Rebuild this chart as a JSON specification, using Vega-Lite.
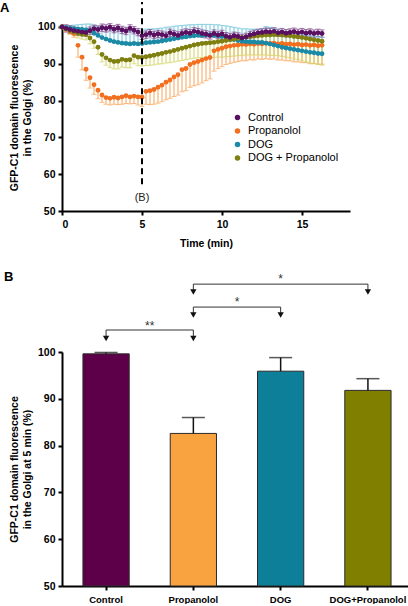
{
"$schema":"https://vega.github.io/schema/vega-lite/v6.json",
"padding":0,
"config":{
"font":"Liberation Sans",
"view":{"stroke":null},
"axis":{"domainColor":"black","domainWidth":2,"tickColor":"black","tickWidth":2,"tickSize":4,"labelFont":"Liberation Sans","labelFontWeight":"bold","labelFontSize":10.5,"labelColor":"black","titleFont":"Liberation Sans","titleFontWeight":"bold","titleFontSize":10.5,"titleColor":"black","grid":false,"labelPadding":3,"labelOverlap":false},
"title":{"fontSize":13,"fontWeight":"bold","anchor":"start","color":"black","font":"Liberation Sans"}
},
"datasets":{
"ts":[
{"t":0,"g":"Propanolol","m":100,"lo":99.5,"hi":100},
{"t":0.25,"g":"Propanolol","m":99.5,"lo":98.9,"hi":99.5},
{"t":0.5,"g":"Propanolol","m":98.8,"lo":98.0,"hi":98.8},
{"t":0.75,"g":"Propanolol","m":98.2,"lo":97.2,"hi":98.2},
{"t":1.0,"g":"Propanolol","m":95.0,"lo":91.8,"hi":95.0},
{"t":1.25,"g":"Propanolol","m":91.8,"lo":88.3,"hi":91.8},
{"t":1.5,"g":"Propanolol","m":88.5,"lo":85.5,"hi":88.5},
{"t":1.75,"g":"Propanolol","m":86.2,"lo":83.4,"hi":86.2},
{"t":2.0,"g":"Propanolol","m":84.3,"lo":81.7,"hi":84.3},
{"t":2.25,"g":"Propanolol","m":82.8,"lo":80.5,"hi":82.8},
{"t":2.5,"g":"Propanolol","m":81.5,"lo":79.5,"hi":81.5},
{"t":2.75,"g":"Propanolol","m":80.8,"lo":79.0,"hi":80.8},
{"t":3.0,"g":"Propanolol","m":80.6,"lo":78.8,"hi":80.6},
{"t":3.25,"g":"Propanolol","m":80.9,"lo":79.0,"hi":80.9},
{"t":3.5,"g":"Propanolol","m":80.7,"lo":78.9,"hi":80.7},
{"t":3.75,"g":"Propanolol","m":81.0,"lo":79.0,"hi":81.0},
{"t":4.0,"g":"Propanolol","m":81.3,"lo":79.2,"hi":81.3},
{"t":4.25,"g":"Propanolol","m":81.0,"lo":79.1,"hi":81.0},
{"t":4.5,"g":"Propanolol","m":81.2,"lo":79.2,"hi":81.2},
{"t":4.75,"g":"Propanolol","m":81.0,"lo":78.8,"hi":81.0},
{"t":5.0,"g":"Propanolol","m":80.9,"lo":78.4,"hi":80.9},
{"t":5.25,"g":"Propanolol","m":82.5,"lo":79.0,"hi":82.5},
{"t":5.5,"g":"Propanolol","m":82.7,"lo":78.9,"hi":82.7},
{"t":5.75,"g":"Propanolol","m":83.0,"lo":79.0,"hi":83.0},
{"t":6.0,"g":"Propanolol","m":83.6,"lo":79.3,"hi":83.6},
{"t":6.25,"g":"Propanolol","m":84.2,"lo":79.7,"hi":84.2},
{"t":6.5,"g":"Propanolol","m":85.0,"lo":80.2,"hi":85.0},
{"t":6.75,"g":"Propanolol","m":85.6,"lo":80.6,"hi":85.6},
{"t":7.0,"g":"Propanolol","m":86.4,"lo":81.1,"hi":86.4},
{"t":7.25,"g":"Propanolol","m":87.0,"lo":81.5,"hi":87.0},
{"t":7.5,"g":"Propanolol","m":88.4,"lo":82.4,"hi":88.4},
{"t":7.75,"g":"Propanolol","m":88.7,"lo":82.7,"hi":88.7},
{"t":8.0,"g":"Propanolol","m":89.8,"lo":83.6,"hi":89.8},
{"t":8.25,"g":"Propanolol","m":90.3,"lo":84.0,"hi":90.3},
{"t":8.5,"g":"Propanolol","m":90.6,"lo":84.3,"hi":90.6},
{"t":8.75,"g":"Propanolol","m":91.0,"lo":84.8,"hi":91.0},
{"t":9.0,"g":"Propanolol","m":91.4,"lo":85.4,"hi":91.4},
{"t":9.25,"g":"Propanolol","m":91.7,"lo":85.9,"hi":91.7},
{"t":9.5,"g":"Propanolol","m":93.5,"lo":88.0,"hi":93.5},
{"t":9.75,"g":"Propanolol","m":93.9,"lo":88.7,"hi":93.9},
{"t":10.0,"g":"Propanolol","m":94.2,"lo":89.2,"hi":94.2},
{"t":10.25,"g":"Propanolol","m":94.6,"lo":89.8,"hi":94.6},
{"t":10.5,"g":"Propanolol","m":94.8,"lo":90.1,"hi":94.8},
{"t":10.75,"g":"Propanolol","m":95.0,"lo":90.4,"hi":95.0},
{"t":11.0,"g":"Propanolol","m":95.1,"lo":90.6,"hi":95.1},
{"t":11.25,"g":"Propanolol","m":95.3,"lo":90.8,"hi":95.3},
{"t":11.5,"g":"Propanolol","m":95.2,"lo":90.8,"hi":95.2},
{"t":11.75,"g":"Propanolol","m":95.4,"lo":91.1,"hi":95.4},
{"t":12.0,"g":"Propanolol","m":95.3,"lo":91.0,"hi":95.3},
{"t":12.25,"g":"Propanolol","m":95.5,"lo":91.3,"hi":95.5},
{"t":12.5,"g":"Propanolol","m":95.4,"lo":91.2,"hi":95.4},
{"t":12.75,"g":"Propanolol","m":95.6,"lo":91.4,"hi":95.6},
{"t":13.0,"g":"Propanolol","m":95.5,"lo":91.2,"hi":95.5},
{"t":13.25,"g":"Propanolol","m":95.6,"lo":91.3,"hi":95.6},
{"t":13.5,"g":"Propanolol","m":95.4,"lo":91.0,"hi":95.4},
{"t":13.75,"g":"Propanolol","m":95.5,"lo":91.0,"hi":95.5},
{"t":14.0,"g":"Propanolol","m":95.3,"lo":90.8,"hi":95.3},
{"t":14.25,"g":"Propanolol","m":95.4,"lo":90.8,"hi":95.4},
{"t":14.5,"g":"Propanolol","m":95.2,"lo":90.5,"hi":95.2},
{"t":14.75,"g":"Propanolol","m":95.3,"lo":90.5,"hi":95.3},
{"t":15.0,"g":"Propanolol","m":95.1,"lo":90.3,"hi":95.1},
{"t":15.25,"g":"Propanolol","m":95.2,"lo":90.3,"hi":95.2},
{"t":15.5,"g":"Propanolol","m":95.0,"lo":90.0,"hi":95.0},
{"t":15.75,"g":"Propanolol","m":95.1,"lo":90.1,"hi":95.1},
{"t":16.0,"g":"Propanolol","m":94.9,"lo":89.9,"hi":94.9},
{"t":16.25,"g":"Propanolol","m":95.0,"lo":89.9,"hi":95.0},
{"t":0,"g":"DOG","m":100,"lo":100,"hi":100.3},
{"t":0.25,"g":"DOG","m":99.8,"lo":99.8,"hi":100.4},
{"t":0.5,"g":"DOG","m":99.6,"lo":99.6,"hi":100.4},
{"t":0.75,"g":"DOG","m":99.5,"lo":99.5,"hi":100.5},
{"t":1.0,"g":"DOG","m":99.4,"lo":99.4,"hi":100.6},
{"t":1.25,"g":"DOG","m":99.3,"lo":99.3,"hi":100.7},
{"t":1.5,"g":"DOG","m":99.2,"lo":99.2,"hi":100.8},
{"t":1.75,"g":"DOG","m":99.0,"lo":99.0,"hi":100.8},
{"t":2.0,"g":"DOG","m":98.3,"lo":98.3,"hi":100.5},
{"t":2.25,"g":"DOG","m":97.7,"lo":97.7,"hi":100.2},
{"t":2.5,"g":"DOG","m":97.1,"lo":97.1,"hi":99.9},
{"t":2.75,"g":"DOG","m":96.7,"lo":96.7,"hi":99.7},
{"t":3.0,"g":"DOG","m":96.3,"lo":96.3,"hi":99.5},
{"t":3.25,"g":"DOG","m":96.0,"lo":96.0,"hi":99.3},
{"t":3.5,"g":"DOG","m":95.8,"lo":95.8,"hi":99.2},
{"t":3.75,"g":"DOG","m":95.6,"lo":95.6,"hi":99.1},
{"t":4.0,"g":"DOG","m":95.5,"lo":95.5,"hi":99.0},
{"t":4.25,"g":"DOG","m":95.4,"lo":95.4,"hi":99.0},
{"t":4.5,"g":"DOG","m":95.5,"lo":95.5,"hi":99.1},
{"t":4.75,"g":"DOG","m":95.4,"lo":95.4,"hi":99.1},
{"t":5.0,"g":"DOG","m":95.5,"lo":95.5,"hi":99.2},
{"t":5.25,"g":"DOG","m":95.7,"lo":95.7,"hi":99.4},
{"t":5.5,"g":"DOG","m":95.8,"lo":95.8,"hi":99.4},
{"t":5.75,"g":"DOG","m":95.9,"lo":95.9,"hi":99.5},
{"t":6.0,"g":"DOG","m":96.0,"lo":96.0,"hi":99.6},
{"t":6.25,"g":"DOG","m":96.2,"lo":96.2,"hi":99.7},
{"t":6.5,"g":"DOG","m":96.4,"lo":96.4,"hi":99.9},
{"t":6.75,"g":"DOG","m":96.6,"lo":96.6,"hi":100.0},
{"t":7.0,"g":"DOG","m":96.8,"lo":96.8,"hi":100.2},
{"t":7.25,"g":"DOG","m":97.0,"lo":97.0,"hi":100.3},
{"t":7.5,"g":"DOG","m":97.2,"lo":97.2,"hi":100.4},
{"t":7.75,"g":"DOG","m":97.3,"lo":97.3,"hi":100.5},
{"t":8.0,"g":"DOG","m":97.5,"lo":97.5,"hi":100.6},
{"t":8.25,"g":"DOG","m":97.6,"lo":97.6,"hi":100.6},
{"t":8.5,"g":"DOG","m":97.7,"lo":97.7,"hi":100.7},
{"t":8.75,"g":"DOG","m":97.7,"lo":97.7,"hi":100.7},
{"t":9.0,"g":"DOG","m":97.8,"lo":97.8,"hi":100.7},
{"t":9.25,"g":"DOG","m":97.8,"lo":97.8,"hi":100.7},
{"t":9.5,"g":"DOG","m":97.7,"lo":97.7,"hi":100.6},
{"t":9.75,"g":"DOG","m":97.6,"lo":97.6,"hi":100.6},
{"t":10.0,"g":"DOG","m":97.4,"lo":97.4,"hi":100.4},
{"t":10.25,"g":"DOG","m":97.2,"lo":97.2,"hi":100.3},
{"t":10.5,"g":"DOG","m":96.9,"lo":96.9,"hi":100.1},
{"t":10.75,"g":"DOG","m":96.6,"lo":96.6,"hi":99.9},
{"t":11.0,"g":"DOG","m":96.3,"lo":96.3,"hi":99.7},
{"t":11.25,"g":"DOG","m":96.1,"lo":96.1,"hi":99.5},
{"t":11.5,"g":"DOG","m":96.0,"lo":96.0,"hi":99.5},
{"t":11.75,"g":"DOG","m":95.9,"lo":95.9,"hi":99.4},
{"t":12.0,"g":"DOG","m":95.9,"lo":95.9,"hi":99.4},
{"t":12.25,"g":"DOG","m":95.8,"lo":95.8,"hi":99.3},
{"t":12.5,"g":"DOG","m":95.8,"lo":95.8,"hi":99.6},
{"t":12.75,"g":"DOG","m":95.6,"lo":95.6,"hi":100.1},
{"t":13.0,"g":"DOG","m":95.4,"lo":95.4,"hi":99.9},
{"t":13.25,"g":"DOG","m":95.1,"lo":95.1,"hi":99.6},
{"t":13.5,"g":"DOG","m":94.8,"lo":94.8,"hi":99.3},
{"t":13.75,"g":"DOG","m":94.5,"lo":94.5,"hi":99.0},
{"t":14.0,"g":"DOG","m":94.3,"lo":94.3,"hi":98.8},
{"t":14.25,"g":"DOG","m":94.1,"lo":94.1,"hi":98.6},
{"t":14.5,"g":"DOG","m":93.9,"lo":93.9,"hi":98.4},
{"t":14.75,"g":"DOG","m":93.7,"lo":93.7,"hi":98.2},
{"t":15.0,"g":"DOG","m":93.5,"lo":93.5,"hi":98.0},
{"t":15.25,"g":"DOG","m":93.3,"lo":93.3,"hi":97.8},
{"t":15.5,"g":"DOG","m":93.1,"lo":93.1,"hi":97.6},
{"t":15.75,"g":"DOG","m":93.0,"lo":93.0,"hi":97.5},
{"t":16.0,"g":"DOG","m":92.8,"lo":92.8,"hi":97.3},
{"t":16.25,"g":"DOG","m":92.7,"lo":92.7,"hi":97.2},
{"t":0,"g":"DOG + Propanolol","m":100,"lo":99.7,"hi":100},
{"t":0.25,"g":"DOG + Propanolol","m":99.5,"lo":98.9,"hi":99.5},
{"t":0.5,"g":"DOG + Propanolol","m":99.0,"lo":98.2,"hi":99.0},
{"t":0.75,"g":"DOG + Propanolol","m":98.6,"lo":97.6,"hi":98.6},
{"t":1.0,"g":"DOG + Propanolol","m":98.2,"lo":97.0,"hi":98.2},
{"t":1.25,"g":"DOG + Propanolol","m":98.0,"lo":96.7,"hi":98.0},
{"t":1.5,"g":"DOG + Propanolol","m":97.9,"lo":96.5,"hi":97.9},
{"t":1.75,"g":"DOG + Propanolol","m":97.0,"lo":95.4,"hi":97.0},
{"t":2.0,"g":"DOG + Propanolol","m":96.0,"lo":94.2,"hi":96.0},
{"t":2.25,"g":"DOG + Propanolol","m":94.5,"lo":92.5,"hi":94.5},
{"t":2.5,"g":"DOG + Propanolol","m":92.5,"lo":90.5,"hi":92.5},
{"t":2.75,"g":"DOG + Propanolol","m":91.6,"lo":89.6,"hi":91.6},
{"t":3.0,"g":"DOG + Propanolol","m":91.0,"lo":89.0,"hi":91.0},
{"t":3.25,"g":"DOG + Propanolol","m":90.6,"lo":88.6,"hi":90.6},
{"t":3.5,"g":"DOG + Propanolol","m":90.7,"lo":88.6,"hi":90.7},
{"t":3.75,"g":"DOG + Propanolol","m":91.2,"lo":89.1,"hi":91.2},
{"t":4.0,"g":"DOG + Propanolol","m":91.0,"lo":88.9,"hi":91.0},
{"t":4.25,"g":"DOG + Propanolol","m":91.1,"lo":88.9,"hi":91.1},
{"t":4.5,"g":"DOG + Propanolol","m":92.2,"lo":90.0,"hi":92.2},
{"t":4.75,"g":"DOG + Propanolol","m":91.8,"lo":89.5,"hi":91.8},
{"t":5.0,"g":"DOG + Propanolol","m":91.7,"lo":89.4,"hi":91.7},
{"t":5.25,"g":"DOG + Propanolol","m":91.9,"lo":89.5,"hi":91.9},
{"t":5.5,"g":"DOG + Propanolol","m":92.1,"lo":89.6,"hi":92.1},
{"t":5.75,"g":"DOG + Propanolol","m":92.3,"lo":89.7,"hi":92.3},
{"t":6.0,"g":"DOG + Propanolol","m":92.6,"lo":89.9,"hi":92.6},
{"t":6.25,"g":"DOG + Propanolol","m":92.8,"lo":90.0,"hi":92.8},
{"t":6.5,"g":"DOG + Propanolol","m":93.1,"lo":90.2,"hi":93.1},
{"t":6.75,"g":"DOG + Propanolol","m":93.3,"lo":90.3,"hi":93.3},
{"t":7.0,"g":"DOG + Propanolol","m":93.6,"lo":90.5,"hi":93.6},
{"t":7.25,"g":"DOG + Propanolol","m":93.9,"lo":90.7,"hi":93.9},
{"t":7.5,"g":"DOG + Propanolol","m":94.2,"lo":90.9,"hi":94.2},
{"t":7.75,"g":"DOG + Propanolol","m":94.5,"lo":91.1,"hi":94.5},
{"t":8.0,"g":"DOG + Propanolol","m":94.8,"lo":91.3,"hi":94.8},
{"t":8.25,"g":"DOG + Propanolol","m":95.1,"lo":91.5,"hi":95.1},
{"t":8.5,"g":"DOG + Propanolol","m":95.3,"lo":91.6,"hi":95.3},
{"t":8.75,"g":"DOG + Propanolol","m":95.5,"lo":91.7,"hi":95.5},
{"t":9.0,"g":"DOG + Propanolol","m":95.6,"lo":91.7,"hi":95.6},
{"t":9.25,"g":"DOG + Propanolol","m":95.7,"lo":91.7,"hi":95.7},
{"t":9.5,"g":"DOG + Propanolol","m":95.8,"lo":91.7,"hi":95.8},
{"t":9.75,"g":"DOG + Propanolol","m":96.0,"lo":91.8,"hi":96.0},
{"t":10.0,"g":"DOG + Propanolol","m":96.1,"lo":91.8,"hi":96.1},
{"t":10.25,"g":"DOG + Propanolol","m":96.3,"lo":91.9,"hi":96.3},
{"t":10.5,"g":"DOG + Propanolol","m":96.5,"lo":92.0,"hi":96.5},
{"t":10.75,"g":"DOG + Propanolol","m":96.7,"lo":92.1,"hi":96.7},
{"t":11.0,"g":"DOG + Propanolol","m":96.9,"lo":92.2,"hi":96.9},
{"t":11.25,"g":"DOG + Propanolol","m":97.1,"lo":92.3,"hi":97.1},
{"t":11.5,"g":"DOG + Propanolol","m":97.3,"lo":92.4,"hi":97.3},
{"t":11.75,"g":"DOG + Propanolol","m":97.4,"lo":92.4,"hi":97.4},
{"t":12.0,"g":"DOG + Propanolol","m":97.5,"lo":92.4,"hi":97.5},
{"t":12.25,"g":"DOG + Propanolol","m":97.6,"lo":92.4,"hi":97.6},
{"t":12.5,"g":"DOG + Propanolol","m":97.7,"lo":92.4,"hi":97.7},
{"t":12.75,"g":"DOG + Propanolol","m":97.8,"lo":92.4,"hi":97.8},
{"t":13.0,"g":"DOG + Propanolol","m":97.8,"lo":92.3,"hi":97.8},
{"t":13.25,"g":"DOG + Propanolol","m":97.9,"lo":92.3,"hi":97.9},
{"t":13.5,"g":"DOG + Propanolol","m":97.9,"lo":92.2,"hi":97.9},
{"t":13.75,"g":"DOG + Propanolol","m":97.8,"lo":92.0,"hi":97.8},
{"t":14.0,"g":"DOG + Propanolol","m":97.7,"lo":91.8,"hi":97.7},
{"t":14.25,"g":"DOG + Propanolol","m":97.6,"lo":91.6,"hi":97.6},
{"t":14.5,"g":"DOG + Propanolol","m":97.4,"lo":91.3,"hi":97.4},
{"t":14.75,"g":"DOG + Propanolol","m":97.3,"lo":91.1,"hi":97.3},
{"t":15.0,"g":"DOG + Propanolol","m":97.1,"lo":90.8,"hi":97.1},
{"t":15.25,"g":"DOG + Propanolol","m":96.9,"lo":90.5,"hi":96.9},
{"t":15.5,"g":"DOG + Propanolol","m":96.7,"lo":90.2,"hi":96.7},
{"t":15.75,"g":"DOG + Propanolol","m":96.5,"lo":90.0,"hi":96.5},
{"t":16.0,"g":"DOG + Propanolol","m":96.3,"lo":89.8,"hi":96.3},
{"t":16.25,"g":"DOG + Propanolol","m":96.1,"lo":89.6,"hi":96.1},
{"t":0,"g":"Control","m":100,"lo":100,"hi":100},
{"t":0.25,"g":"Control","m":99.6,"lo":98.6,"hi":100.6},
{"t":0.5,"g":"Control","m":99.3,"lo":98.3,"hi":100.3},
{"t":0.75,"g":"Control","m":99.0,"lo":98.0,"hi":100.0},
{"t":1.0,"g":"Control","m":98.8,"lo":97.8,"hi":99.8},
{"t":1.25,"g":"Control","m":98.6,"lo":97.6,"hi":99.6},
{"t":1.5,"g":"Control","m":98.5,"lo":97.5,"hi":99.5},
{"t":1.75,"g":"Control","m":99.0,"lo":98.0,"hi":100.0},
{"t":2.0,"g":"Control","m":99.5,"lo":98.5,"hi":100.5},
{"t":2.25,"g":"Control","m":99.3,"lo":98.3,"hi":100.3},
{"t":2.5,"g":"Control","m":99.8,"lo":98.8,"hi":100.8},
{"t":2.75,"g":"Control","m":99.6,"lo":98.6,"hi":100.6},
{"t":3.0,"g":"Control","m":99.9,"lo":98.9,"hi":100.9},
{"t":3.25,"g":"Control","m":99.4,"lo":98.4,"hi":100.4},
{"t":3.5,"g":"Control","m":99.7,"lo":98.7,"hi":100.7},
{"t":3.75,"g":"Control","m":99.2,"lo":98.2,"hi":100.2},
{"t":4.0,"g":"Control","m":98.9,"lo":97.9,"hi":99.9},
{"t":4.25,"g":"Control","m":99.6,"lo":98.6,"hi":100.6},
{"t":4.5,"g":"Control","m":99.1,"lo":98.1,"hi":100.1},
{"t":4.75,"g":"Control","m":98.6,"lo":97.6,"hi":99.6},
{"t":5.0,"g":"Control","m":97.6,"lo":96.6,"hi":98.6},
{"t":5.25,"g":"Control","m":97.9,"lo":96.9,"hi":98.9},
{"t":5.5,"g":"Control","m":98.3,"lo":97.3,"hi":99.3},
{"t":5.75,"g":"Control","m":97.8,"lo":96.8,"hi":98.8},
{"t":6.0,"g":"Control","m":98.1,"lo":97.1,"hi":99.1},
{"t":6.25,"g":"Control","m":97.9,"lo":96.9,"hi":98.9},
{"t":6.5,"g":"Control","m":97.6,"lo":96.6,"hi":98.6},
{"t":6.75,"g":"Control","m":98.4,"lo":97.4,"hi":99.4},
{"t":7.0,"g":"Control","m":98.0,"lo":97.0,"hi":99.0},
{"t":7.25,"g":"Control","m":97.7,"lo":96.7,"hi":98.7},
{"t":7.5,"g":"Control","m":98.2,"lo":97.2,"hi":99.2},
{"t":7.75,"g":"Control","m":98.5,"lo":97.5,"hi":99.5},
{"t":8.0,"g":"Control","m":98.3,"lo":97.3,"hi":99.3},
{"t":8.25,"g":"Control","m":98.8,"lo":97.8,"hi":99.8},
{"t":8.5,"g":"Control","m":98.6,"lo":97.6,"hi":99.6},
{"t":8.75,"g":"Control","m":98.2,"lo":97.2,"hi":99.2},
{"t":9.0,"g":"Control","m":98.0,"lo":97.0,"hi":99.0},
{"t":9.25,"g":"Control","m":97.7,"lo":96.7,"hi":98.7},
{"t":9.5,"g":"Control","m":98.2,"lo":97.2,"hi":99.2},
{"t":9.75,"g":"Control","m":97.8,"lo":96.8,"hi":98.8},
{"t":10.0,"g":"Control","m":98.1,"lo":97.1,"hi":99.1},
{"t":10.25,"g":"Control","m":97.5,"lo":96.5,"hi":98.5},
{"t":10.5,"g":"Control","m":97.2,"lo":96.2,"hi":98.2},
{"t":10.75,"g":"Control","m":97.6,"lo":96.6,"hi":98.6},
{"t":11.0,"g":"Control","m":97.4,"lo":96.4,"hi":98.4},
{"t":11.25,"g":"Control","m":97.0,"lo":96.0,"hi":98.0},
{"t":11.5,"g":"Control","m":97.3,"lo":96.3,"hi":98.3},
{"t":11.75,"g":"Control","m":97.8,"lo":96.8,"hi":98.8},
{"t":12.0,"g":"Control","m":98.1,"lo":97.1,"hi":99.1},
{"t":12.25,"g":"Control","m":98.4,"lo":97.4,"hi":99.4},
{"t":12.5,"g":"Control","m":98.5,"lo":97.5,"hi":99.5},
{"t":12.75,"g":"Control","m":98.7,"lo":97.7,"hi":99.7},
{"t":13.0,"g":"Control","m":98.6,"lo":97.6,"hi":99.6},
{"t":13.25,"g":"Control","m":98.8,"lo":97.8,"hi":99.8},
{"t":13.5,"g":"Control","m":98.4,"lo":97.4,"hi":99.4},
{"t":13.75,"g":"Control","m":98.6,"lo":97.6,"hi":99.6},
{"t":14.0,"g":"Control","m":98.3,"lo":97.3,"hi":99.3},
{"t":14.25,"g":"Control","m":98.5,"lo":97.5,"hi":99.5},
{"t":14.5,"g":"Control","m":98.7,"lo":97.7,"hi":99.7},
{"t":14.75,"g":"Control","m":98.4,"lo":97.4,"hi":99.4},
{"t":15.0,"g":"Control","m":98.6,"lo":97.6,"hi":99.6},
{"t":15.25,"g":"Control","m":98.3,"lo":97.3,"hi":99.3},
{"t":15.5,"g":"Control","m":98.5,"lo":97.5,"hi":99.5},
{"t":15.75,"g":"Control","m":98.2,"lo":97.2,"hi":99.2},
{"t":16.0,"g":"Control","m":98.4,"lo":97.4,"hi":99.4},
{"t":16.25,"g":"Control","m":98.2,"lo":97.2,"hi":99.2}
],
"bars":[
{"g":"Control","m":99.6,"hi":99.9},
{"g":"Propanolol","m":82.6,"hi":86.0},
{"g":"DOG","m":95.9,"hi":98.8},
{"g":"DOG+Propanolol","m":91.8,"hi":94.3}
],
"brackets":[
{"a":"Control","b":"Propanolol","y":104.7},
{"a":"Propanolol","b":"DOG","y":109.6},
{"a":"Propanolol","b":"DOG+Propanolol","y":114.5}
],
"ends":[
{"g":"Control","y":104.7,"tip":102.9},
{"g":"Propanolol","y":104.7,"tip":102.9},
{"g":"Propanolol","y":109.6,"tip":107.9},
{"g":"DOG","y":109.6,"tip":107.9},
{"g":"Propanolol","y":114.5,"tip":112.8},
{"g":"DOG+Propanolol","y":114.5,"tip":112.8}
],
"one":[{}]
},
"columns":1,
"align":"none",
"spacing":21,
"concat":[
{
"width":288,"height":187,
"title":{"text":"A","frame":"group","dx":-62,"offset":-14},
"layer":[
{"data":{"name":"ts"},"mark":{"type":"rule","strokeWidth":1},
"encoding":{
"x":{"field":"t","type":"quantitative","scale":{"domain":[0,18],"nice":false},"axis":{"values":[0,5,10,15],"title":"Time (min)","titlePadding":9,"labelPadding":4}},
"y":{"field":"lo","type":"quantitative","scale":{"domain":[50,100.8],"nice":false,"zero":false},"axis":{"values":[50,60,70,80,90,100],"tickCount":6,"labelOverlap":false,"labelBound":false,"title":["GFP-C1 domain fluorescence","in the Golgi (%)"],"titlePadding":5}},
"y2":{"field":"hi"},
"color":{"field":"g","type":"nominal","scale":{"domain":["Control","Propanolol","DOG","DOG + Propanolol"],"range":["#7a4088","#f8a458","#6cc3dc","#d2d464"]},"legend":null}}},
{"data":{"name":"ts"},"transform":[{"filter":"datum.lo < datum.m"}],"mark":{"type":"tick","orient":"horizontal","size":5,"thickness":1},
"encoding":{"x":{"field":"t","type":"quantitative"},"y":{"field":"lo","type":"quantitative"},
"color":{"field":"g","type":"nominal","scale":{"domain":["Control","Propanolol","DOG","DOG + Propanolol"],"range":["#7a4088","#f8a458","#6cc3dc","#d2d464"]},"legend":null}}},
{"data":{"name":"ts"},"transform":[{"filter":"datum.hi > datum.m"}],"mark":{"type":"tick","orient":"horizontal","size":5,"thickness":1},
"encoding":{"x":{"field":"t","type":"quantitative"},"y":{"field":"hi","type":"quantitative"},
"color":{"field":"g","type":"nominal","scale":{"domain":["Control","Propanolol","DOG","DOG + Propanolol"],"range":["#7a4088","#f8a458","#6cc3dc","#d2d464"]},"legend":null}}},
{"data":{"name":"ts"},"mark":{"type":"point","filled":true,"size":24,"opacity":1},
"encoding":{"x":{"field":"t","type":"quantitative"},"y":{"field":"m","type":"quantitative"},
"color":{"field":"g","type":"nominal","scale":{"domain":["Control","Propanolol","DOG","DOG + Propanolol"],"range":["#5a1060","#f26f1f","#1b8aa6","#7f7f12"]},
"legend":{"title":null,"orient":"none","legendX":170,"legendY":88,"labelFontSize":11,"labelFont":"Liberation Sans","labelColor":"black","symbolType":"circle","symbolSize":30,"rowPadding":1.5,"labelOffset":5}}}},
{"data":{"name":"one"},"mark":{"type":"rule","strokeDash":[6,4],"strokeWidth":2,"color":"black"},
"encoding":{"x":{"datum":5,"type":"quantitative"},"y":{"datum":57.3,"type":"quantitative"},"y2":{"datum":106.8}}},
{"data":{"name":"one"},"mark":{"type":"text","fontSize":11,"color":"#222","font":"Liberation Sans"},
"encoding":{"x":{"datum":5,"type":"quantitative"},"y":{"datum":53.6,"type":"quantitative"},"text":{"value":"(B)"}}}
],
"resolve":{"scale":{"color":"independent"}}
},
{
"width":350,"height":316,
"title":{"text":"B","frame":"group","dx":-58,"offset":-14},
"layer":[
{"data":{"name":"bars"},"mark":{"type":"bar","stroke":"#2a2a2a","strokeWidth":1},
"encoding":{
"x":{"field":"g","type":"nominal","sort":null,"scale":{"domain":["Control","Propanolol","DOG","DOG+Propanolol"],"paddingInner":0.47,"paddingOuter":0.24},"axis":{"title":null,"labelAngle":0,"labelFontSize":9.5,"labelPadding":4}},
"y":{"field":"m","type":"quantitative","scale":{"domain":[50,100],"range":[316,82],"nice":false,"zero":false},"axis":{"values":[50,60,70,80,90,100],"title":["GFP-C1 domain fluorescence","in the Golgi at 5 min (%)"],"titlePadding":5}},
"y2":{"datum":50},
"color":{"field":"g","type":"nominal","scale":{"domain":["Control","Propanolol","DOG","DOG+Propanolol"],"range":["#5e0049","#f9a340","#0d7f98","#807f00"]},"legend":null}}},
{"data":{"name":"bars"},"mark":{"type":"rule","strokeWidth":1.5,"color":"#111"},
"encoding":{"x":{"field":"g","type":"nominal","bandPosition":0.5},"y":{"field":"m","type":"quantitative"},"y2":{"field":"hi"}}},
{"data":{"name":"bars"},"mark":{"type":"tick","orient":"horizontal","size":23,"thickness":1.5,"color":"#111"},
"encoding":{"x":{"field":"g","type":"nominal","bandPosition":0.5},"y":{"field":"hi","type":"quantitative"}}},
{"data":{"name":"brackets"},"mark":{"type":"rule","strokeWidth":1,"color":"#333"},
"encoding":{"x":{"field":"a","type":"nominal","bandPosition":0.5},"x2":{"field":"b","bandPosition":0.5},"y":{"field":"y","type":"quantitative"}}},
{"data":{"name":"ends"},"mark":{"type":"rule","strokeWidth":1,"color":"#333"},
"encoding":{"x":{"field":"g","type":"nominal","bandPosition":0.5},"y":{"field":"y","type":"quantitative"},"y2":{"field":"tip"}}},
{"data":{"name":"ends"},"mark":{"type":"point","shape":"triangle-down","filled":true,"size":40,"color":"#111","opacity":1},
"encoding":{"x":{"field":"g","type":"nominal","bandPosition":0.5},"y":{"field":"tip","type":"quantitative"}}},
{"data":{"name":"one"},"mark":{"type":"text","fontSize":12,"color":"#333","baseline":"middle"},
"encoding":{"x":{"datum":"Control","type":"nominal","bandPosition":1.443},"y":{"datum":105.6,"type":"quantitative"},"text":{"value":"**"}}},
{"data":{"name":"one"},"mark":{"type":"text","fontSize":12,"color":"#333","baseline":"middle"},
"encoding":{"x":{"datum":"Propanolol","type":"nominal","bandPosition":1.443},"y":{"datum":110.6,"type":"quantitative"},"text":{"value":"*"}}},
{"data":{"name":"one"},"mark":{"type":"text","fontSize":12,"color":"#333","baseline":"middle"},
"encoding":{"x":{"datum":"DOG","type":"nominal","bandPosition":0.5},"y":{"datum":115.6,"type":"quantitative"},"text":{"value":"*"}}}
]
}
]
}
